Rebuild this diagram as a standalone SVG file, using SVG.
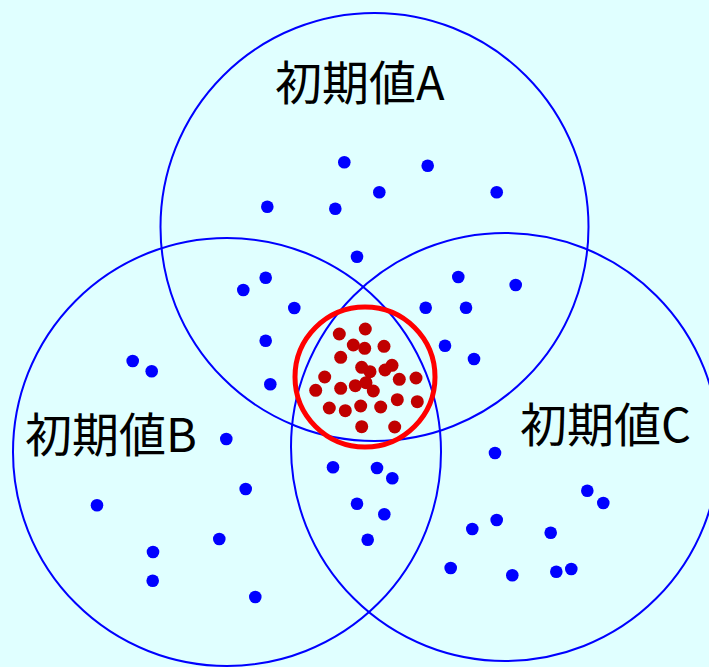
<svg xmlns="http://www.w3.org/2000/svg" width="709" height="667" viewBox="0 0 709 667">
<style>
.ring{fill:none;stroke:#0000FF;stroke-width:2}
.b{fill:#0000FF}
.r{fill:#C00000}
.lbl{font-family:"Noto Sans CJK JP","Noto Sans",sans-serif;font-size:47px;fill:#000}
</style>
<rect width="709" height="667" fill="#E0FFFF"/>
<g id="circleA"><circle class="ring" cx="374.5" cy="227" r="214"/><text class="lbl" x="275" y="100">初期値A</text></g>
<g id="circleB"><circle class="ring" cx="227" cy="452" r="214"/><text class="lbl" x="25" y="452">初期値B</text></g>
<g id="circleC"><circle class="ring" cx="505" cy="447" r="214"/><text class="lbl" x="520" y="442">初期値C</text></g>
<g id="blueDots" class="b">
<circle cx="344.3" cy="162.3" r="6.3"/><circle cx="427.7" cy="165.7" r="6.3"/><circle cx="379.3" cy="192.3" r="6.3"/><circle cx="496.7" cy="192.3" r="6.3"/><circle cx="267.3" cy="206.7" r="6.3"/><circle cx="335.3" cy="208.7" r="6.3"/>
<circle cx="357" cy="256.7" r="6.3"/><circle cx="265.7" cy="277.7" r="6.3"/><circle cx="243.3" cy="290" r="6.3"/><circle cx="294.3" cy="308" r="6.3"/><circle cx="265.7" cy="340.7" r="6.3"/><circle cx="132.7" cy="361" r="6.3"/><circle cx="151.7" cy="371.3" r="6.3"/><circle cx="270.3" cy="384.3" r="6.3"/><circle cx="226.3" cy="439" r="6.3"/><circle cx="245.7" cy="489" r="6.3"/><circle cx="97" cy="505.3" r="6.3"/><circle cx="219.3" cy="539" r="6.3"/><circle cx="153" cy="552" r="6.3"/><circle cx="152.7" cy="580.7" r="6.3"/><circle cx="255.3" cy="597" r="6.3"/>
<circle cx="458.3" cy="277" r="6.3"/><circle cx="515.7" cy="285" r="6.3"/><circle cx="425.7" cy="307.7" r="6.3"/><circle cx="466" cy="307.7" r="6.3"/><circle cx="445" cy="345.7" r="6.3"/><circle cx="474" cy="359" r="6.3"/><circle cx="495" cy="453" r="6.3"/><circle cx="333" cy="467.3" r="6.3"/><circle cx="377" cy="468" r="6.3"/><circle cx="392.3" cy="478.3" r="6.3"/><circle cx="587.3" cy="490.7" r="6.3"/><circle cx="603.3" cy="503" r="6.3"/><circle cx="357" cy="503.7" r="6.3"/><circle cx="384.3" cy="514.3" r="6.3"/><circle cx="496.7" cy="520" r="6.3"/><circle cx="472.3" cy="529" r="6.3"/><circle cx="550.7" cy="532.7" r="6.3"/><circle cx="367.7" cy="539.7" r="6.3"/><circle cx="450.7" cy="568" r="6.3"/><circle cx="512.3" cy="575.3" r="6.3"/><circle cx="556.3" cy="571.7" r="6.3"/><circle cx="571.3" cy="569" r="6.3"/>
</g>
<g id="redDots" class="r">
<circle cx="339.3" cy="334" r="6.5"/><circle cx="365.3" cy="329" r="6.5"/><circle cx="353.3" cy="345" r="6.5"/><circle cx="364.7" cy="348.3" r="6.5"/><circle cx="384" cy="346.3" r="6.5"/><circle cx="340.7" cy="357.3" r="6.5"/><circle cx="361.7" cy="367.3" r="6.5"/><circle cx="370" cy="371.7" r="6.5"/><circle cx="385" cy="370" r="6.5"/><circle cx="392" cy="365.3" r="6.5"/><circle cx="324.7" cy="377" r="6.5"/><circle cx="399.3" cy="379.3" r="6.5"/><circle cx="416" cy="378" r="6.5"/><circle cx="315.7" cy="390.3" r="6.5"/><circle cx="340.7" cy="388.3" r="6.5"/><circle cx="355.3" cy="385.7" r="6.5"/><circle cx="366" cy="382.7" r="6.5"/><circle cx="373.3" cy="391" r="6.5"/><circle cx="397.3" cy="399.7" r="6.5"/><circle cx="417.3" cy="401.7" r="6.5"/><circle cx="329.3" cy="408" r="6.5"/><circle cx="345.3" cy="410.7" r="6.5"/><circle cx="360.7" cy="406" r="6.5"/><circle cx="380.7" cy="407" r="6.5"/><circle cx="361.7" cy="426.7" r="6.5"/><circle cx="394.7" cy="427" r="6.5"/>
</g>
<g id="convergence"><circle cx="365" cy="377" r="70" fill="none" stroke="#FF0000" stroke-width="5"/></g>
</svg>
